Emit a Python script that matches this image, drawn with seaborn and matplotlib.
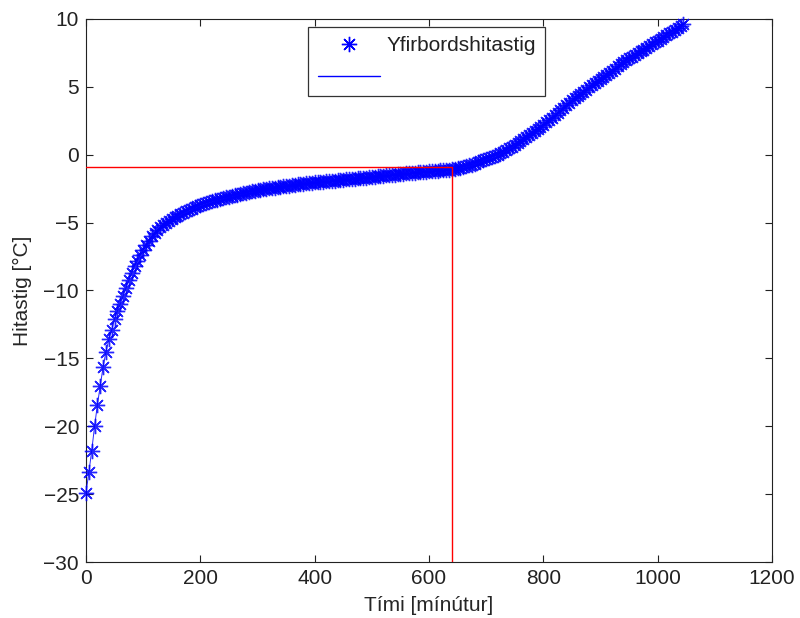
import matplotlib
matplotlib.use("Agg")
import matplotlib.pyplot as plt
import seaborn as sns
import pandas as pd
from matplotlib.lines import Line2D

# --- data ---
time_min = [
    0, 5, 10, 15, 20, 25, 30, 35, 40, 45, 50, 55, 60, 65, 70, 75, 80, 85, 90, 95,
    100, 105, 110, 115, 120, 125, 130, 135, 140, 145, 150, 155, 160, 165, 170, 175, 180, 185, 190, 195,
    200, 205, 210, 215, 220, 225, 230, 235, 240, 245, 250, 255, 260, 265, 270, 275, 280, 285, 290, 295,
    300, 305, 310, 315, 320, 325, 330, 335, 340, 345, 350, 355, 360, 365, 370, 375, 380, 385, 390, 395,
    400, 405, 410, 415, 420, 425, 430, 435, 440, 445, 450, 455, 460, 465, 470, 475, 480, 485, 490, 495,
    500, 505, 510, 515, 520, 525, 530, 535, 540, 545, 550, 555, 560, 565, 570, 575, 580, 585, 590, 595,
    600, 605, 610, 615, 620, 625, 630, 635, 640, 645, 650, 655, 660, 665, 670, 675, 680, 685, 690, 695,
    700, 705, 710, 715, 720, 725, 730, 735, 740, 745, 750, 755, 760, 765, 770, 775, 780, 785, 790, 795,
    800, 805, 810, 815, 820, 825, 830, 835, 840, 845, 850, 855, 860, 865, 870, 875, 880, 885, 890, 895,
    900, 905, 910, 915, 920, 925, 930, 935, 940, 945, 950, 955, 960, 965, 970, 975, 980, 985, 990, 995,
    1000, 1005, 1010, 1015, 1020, 1025, 1030, 1035, 1040, 1045,
]
surface_temp = [
    -24.9, -23.4, -21.8, -20.0, -18.4, -17.0, -15.6, -14.5, -13.6, -12.9,
    -12.1, -11.5, -11.0, -10.4, -9.8, -9.25, -8.7, -8.2, -7.8, -7.4,
    -7.05, -6.68, -6.33, -6.02, -5.76, -5.53, -5.33, -5.16, -5.0, -4.86,
    -4.73, -4.61, -4.49, -4.38, -4.27, -4.17, -4.07, -3.97, -3.88, -3.79,
    -3.7, -3.63, -3.56, -3.49, -3.42, -3.36, -3.3, -3.24, -3.19, -3.14,
    -3.09, -3.04, -2.99, -2.94, -2.89, -2.84, -2.8, -2.74, -2.7, -2.66,
    -2.62, -2.58, -2.55, -2.51, -2.48, -2.45, -2.42, -2.39, -2.36, -2.33,
    -2.3, -2.27, -2.24, -2.21, -2.18, -2.15, -2.12, -2.1, -2.08, -2.06,
    -2.04, -2.02, -2.0, -1.98, -1.96, -1.94, -1.92, -1.9, -1.88, -1.86,
    -1.84, -1.82, -1.8, -1.78, -1.76, -1.74, -1.72, -1.7, -1.68, -1.66,
    -1.63, -1.61, -1.58, -1.56, -1.54, -1.52, -1.5, -1.48, -1.46, -1.44,
    -1.42, -1.4, -1.38, -1.36, -1.34, -1.32, -1.3, -1.28, -1.27, -1.25,
    -1.23, -1.21, -1.19, -1.17, -1.15, -1.13, -1.11, -1.09, -1.06, -1.03,
    -1.0, -0.96, -0.91, -0.85, -0.79, -0.72, -0.65, -0.57, -0.49, -0.42,
    -0.35, -0.27, -0.18, -0.09, 0.01, 0.12, 0.23, 0.35, 0.47, 0.6,
    0.73, 0.87, 1.01, 1.15, 1.3, 1.45, 1.6, 1.75, 1.9, 2.05,
    2.2, 2.38, 2.56, 2.74, 2.92, 3.1, 3.28, 3.46, 3.64, 3.82,
    4.0, 4.16, 4.32, 4.48, 4.64, 4.8, 4.96, 5.12, 5.28, 5.44,
    5.6, 5.75, 5.9, 6.05, 6.2, 6.35, 6.5, 6.65, 6.8, 6.95,
    7.1, 7.23, 7.36, 7.49, 7.62, 7.75, 7.88, 8.01, 8.14, 8.27,
    8.4, 8.53, 8.66, 8.8, 8.93, 9.06, 9.2, 9.33, 9.46, 9.6,
]
marker_time = 640
marker_temp = -0.9
x_ticks = [0, 200, 400, 600, 800, 1000, 1200]
y_ticks = [-30, -25, -20, -15, -10, -5, 0, 5, 10]
legend_label = "Yfirbordshitastig"
x_label = "Tími [mínútur]"
y_label = "Hitastig [°C]"

df = pd.DataFrame({"t": time_min, "T": surface_temp})
guide_h = pd.DataFrame({"t": [0, marker_time], "T": [marker_temp, marker_temp]})
guide_v = pd.DataFrame({"t": [marker_time, marker_time], "T": [y_ticks[0], marker_temp]})

sns.set_theme(style="white")
plt.rcParams["font.family"] = ["Liberation Sans", "DejaVu Sans"]
plt.rcParams["text.color"] = "#222222"

fig = plt.figure(figsize=(8.0, 6.18), dpi=100)
ax = fig.add_axes([0.1075, 0.0906, 0.8575, 0.8787])

ast = (8, 2, 0)
sns.lineplot(data=df, x="t", y="T", ax=ax, color=(0, 0, 1), linewidth=0.7,
             marker=ast, markersize=11, markeredgewidth=1.0,
             markeredgecolor=(0, 0, 1), alpha=0.85, legend=False,
             estimator=None, sort=False, clip_on=False, zorder=3)

# red guide lines
sns.lineplot(data=guide_h, x="t", y="T", ax=ax, color="red", linewidth=1.0,
             legend=False, estimator=None, sort=False, zorder=4)
sns.lineplot(data=guide_v, x="t", y="T", ax=ax, color="red", linewidth=1.0,
             legend=False, estimator=None, sort=False, zorder=4)

ax.set_xlim(x_ticks[0], x_ticks[-1])
ax.set_ylim(y_ticks[0], y_ticks[-1])
ax.set_xticks(x_ticks)
ax.set_yticks(y_ticks)
ax.set_xticklabels([str(v) for v in x_ticks])
ax.set_yticklabels([str(v).replace("-", "\u2212") for v in y_ticks])
ax.tick_params(direction="in", length=5, width=0.8, colors="#222222",
               labelsize=15, top=True, right=True, bottom=True, left=True,
               labelcolor="#222222")
ax.tick_params(axis="x", pad=5)
ax.tick_params(axis="y", pad=5)
for s in ax.spines.values():
    s.set_visible(True)
    s.set_color("#222222")
    s.set_linewidth(0.8)
ax.grid(False)
ax.set_xlabel(x_label, fontsize=15, labelpad=6)
ax.set_ylabel(y_label, fontsize=15, labelpad=8)

h1 = Line2D([], [], linestyle="none", marker=ast, markersize=11,
            markeredgewidth=1.0, color=(0, 0, 1))
h2 = Line2D([], [], linestyle="-", linewidth=1.0, color=(0, 0, 1))
leg = ax.legend([h1, h2], [legend_label, ""], loc="upper left",
                bbox_to_anchor=(0.324, 0.985), fontsize=15, frameon=True,
                fancybox=False, edgecolor="#333333", framealpha=1,
                handlelength=3.0, borderpad=0.45, labelspacing=0.6,
                handletextpad=0.3, borderaxespad=0)
leg.get_frame().set_linewidth(0.9)

fig.savefig("out.png", dpi=100, facecolor="white")
